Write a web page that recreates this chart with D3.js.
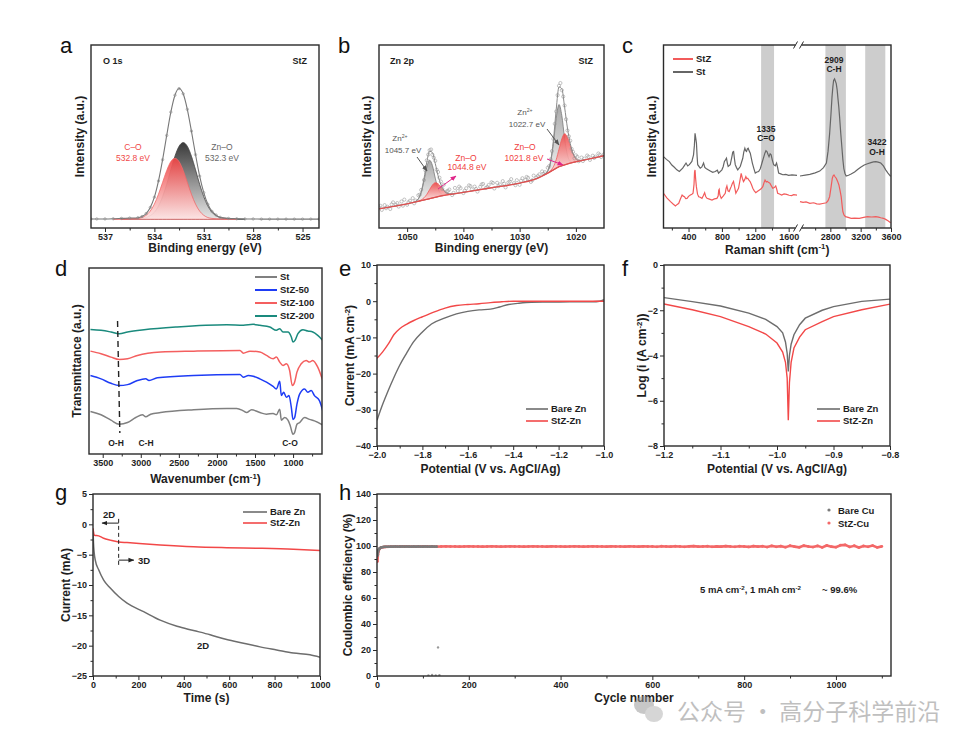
<!DOCTYPE html>
<html><head><meta charset="utf-8">
<script src="https://cdn.jsdelivr.net/npm/d3@7"></script>
<style>body{margin:0;background:#fff}svg{display:block}</style>
</head><body>
<svg id="fig" width="960" height="743"></svg>
<script>
// ================= DATA =================
// ---- a : O 1s XPS ----
const aTicksX=[537,534,531,528,525];
const aMinorX=[535.5,532.5,529.5,526.5];
const aEnvelope=[[537.85,0.2],[537.5,0.2],[537,0.2],[536.5,0.3],[536,0.5],[535.5,0.7],[535,0.9],[534.75,1.6],[534.5,3.3],[534.25,6.8],[534,12.7],[533.75,22.0],[533.5,34.2],[533.25,48.1],[533,61.5],[532.75,71.2],[532.5,75.0],[532.25,72.0],[532,63.1],[531.75,50.6],[531.5,37.1],[531.25,24.8],[531,15.3],[530.75,8.6],[530.5,4.5],[530.25,2.4],[530,1.1],[529.5,0.5],[529,0.3],[528.5,0.2],[528,0.2],[527.5,0.1],[527,0.1],[526.5,0.1],[526,0.1],[525.5,0.1],[525,0.1],[524.5,0.1],[524,0.1]];
const aZnO=[[536,0.2],[535.5,0.3],[535,0.4],[534.75,0.6],[534.5,1.0],[534.25,2.1],[534,4.0],[533.75,7.6],[533.5,13.0],[533.25,20.1],[533,28.4],[532.75,36.2],[532.5,41.9],[532.25,44],[532,41.9],[531.75,36.2],[531.5,28.4],[531.25,20.1],[531,13.0],[530.75,7.6],[530.5,4.0],[530.25,2.1],[530,1.0],[529.75,0.6],[529.5,0.4],[529,0.2],[528.5,0.1]];
const aCO=[[536.5,0.1],[536,0.2],[535.5,0.3],[535.25,0.4],[535,0.5],[534.75,1.0],[534.5,2.3],[534.25,4.7],[534,8.7],[533.75,14.4],[533.5,21.2],[533.25,28.0],[533,33.1],[532.75,35],[532.5,33.1],[532.25,28.0],[532,21.2],[531.75,14.4],[531.5,8.7],[531.25,4.7],[531,2.3],[530.75,1.0],[530.5,0.5],[530.25,0.3],[530,0.2],[529.5,0.1],[529,0.1]];

// ---- b : Zn 2p XPS ----
const bTicksX=[1050,1040,1030,1020];
const bMinorX=[1045,1035,1025];
const bBackground=[[1055,10.5],[1050,13.2],[1046,16],[1044,17.5],[1042,18.5],[1040,19.5],[1035,22],[1030,24.5],[1027,27],[1025,30],[1023,33.5],[1021,35.5],[1018,37.5],[1015,39.5]];
const bZn2p32=[[1026,28.5],[1025.5,29.45],[1025,31.1],[1024.5,35.8],[1024,46.15],[1023.5,60],[1023,67.5],[1022.5,61.4],[1022,48.9],[1021.5,39.9],[1021,36.6],[1020.5,36.0],[1020,36.2]];
const bZnO32=[[1025.5,29.25],[1025,30.1],[1024.5,31.4],[1024,33.45],[1023.5,37.3],[1023,43.1],[1022.5,48.7],[1022,51.5],[1021.5,49.7],[1021,45.1],[1020.5,40.5],[1020,37.9],[1019.5,37.0],[1019,36.9],[1018.5,37.2]];
const bZn2p12=[[1048.5,14.55],[1048,15.9],[1047.5,19.35],[1047,25.8],[1046.5,33.35],[1046,37],[1045.5,34.1],[1045,27.25],[1044.5,21.5],[1044,18.8],[1043.5,18.05]];
const bZnO12=[[1048,14.7],[1047.5,15.35],[1047,16.5],[1046.5,18.35],[1046,21],[1045.5,23.5],[1045,24.75],[1044.5,24.2],[1044,22.5],[1043.5,20.45],[1043,19.2],[1042.5,18.65],[1042,18.6]];
const bEnvelope=[[1055,10.5],[1052,12.1],[1050,13.2],[1049,13.9],[1048.5,14.55],[1048,16.0],[1047.5,19.75],[1047,27.0],[1046.5,36.05],[1046,42],[1045.5,41.2],[1045,35.25],[1044.5,28.6],[1044,23.8],[1043.5,20.75],[1043,19.2],[1042.5,18.65],[1042,18.6],[1040,19.5],[1037,21],[1035,22],[1032,23.5],[1030,24.5],[1028,26.2],[1027,27],[1026,28.5],[1025.5,29.65],[1025,31.2],[1024.5,36.3],[1024,47.85],[1023.5,64.7],[1023,77.1],[1022.5,76.1],[1022,65.9],[1021.5,54.6],[1021,46.2],[1020.5,40.7],[1020,37.9],[1019.5,37.0],[1019,36.9],[1018,37.5],[1016,38.8],[1015,39.5]];
const bRaw=[[1055,11.3],[1054.5,9.9],[1054,12.5],[1053.5,11.6],[1053,10.4],[1052.5,14.0],[1052,12.7],[1051.5,11.7],[1051,14.5],[1050.5,15.5],[1050,12.7],[1049.5,14.9],[1049,16.3],[1048.5,15.0],[1048,17.9],[1047.5,20.8],[1047,26.2],[1046.5,37.0],[1046,42.5],[1045.5,40.0],[1045,36.7],[1044.5,30.6],[1044,25.4],[1043.5,23.6],[1043,19.9],[1042.5,21.0],[1042,18.0],[1041.5,21.9],[1041,20.2],[1040.5,21.8],[1040,19.1],[1039.5,21.7],[1039,23.3],[1038.5,21.1],[1038,22.6],[1037.5,19.9],[1037,22.5],[1036.5,24.1],[1036,21.9],[1035.5,23.5],[1035,25.0],[1034.5,21.6],[1034,24.7],[1033.5,23.8],[1033,25.6],[1032.5,22.2],[1032,24.9],[1031.5,26.7],[1031,24.5],[1030.5,26.1],[1030,23.6],[1029.5,27.2],[1029,26.2],[1028.5,27.4],[1028,25.2],[1027.5,28.6],[1027,27.6],[1026.5,29.3],[1026,30.9],[1025.5,30.5],[1025,32.9],[1024.5,37.5],[1024,48.7],[1023.5,63.7],[1023,77.7],[1022.5,75.3],[1022,66.9],[1021.5,53.3],[1021,47.7],[1020.5,41.6],[1020,39.7],[1019.5,36.5],[1019,38.5],[1018.5,37.9],[1018,39.6],[1017.5,37.2],[1017,39.5],[1016.5,39.0],[1016,40.7],[1015.5,38.8],[1015,40.3],
  [1054.75,12.1],[1053.75,10.8],[1052.75,12.9],[1051.75,13.6],[1050.75,12.2],[1049.75,14.1],[1048.75,13.5],[1047.75,18.2],[1046.75,31.5],[1046.25,40.1],[1045.75,42.9],[1045.25,38.4],[1044.75,31.8],[1044.25,27.5],[1043.75,21.4],[1042.75,20.3],[1041.75,19.2],[1040.75,22.6],[1039.75,20.4],[1038.75,22.9],[1037.75,21.3],[1036.75,23.8],[1035.75,22.4],[1034.75,24.6],[1033.75,22.9],[1032.75,24.2],[1031.75,25.3],[1030.75,23.4],[1029.75,25.8],[1028.75,27.9],[1027.75,26.1],[1026.75,28.4],[1025.75,29.6],[1024.75,33.8],[1024.25,42.0],[1023.75,56.9],[1023.25,72.6],[1022.75,79.2],[1022.25,71.8],[1021.75,59.4],[1021.25,50.1],[1020.75,43.2],[1020.25,38.1],[1019.75,38.9],[1018.75,36.6],[1017.75,38.9],[1016.75,38.3],[1015.75,40.0]];

// ---- c : Raman ----
const cTicksLeft=[400,800,1200,1600], cMinorLeft=[200,600,1000,1400];
const cTicksRight=[2800,3200,3600], cMinorRight=[2600,3000,3400];
const cBands=[[1270,1425],[2735,3005],[3260,3525]];
const cStLeft=[[100,39],[135,37.5],[170,36.3],[200,34.4],[230,33.2],[260,31.8],[290,30.9],[330,32.7],[350,34.1],[370,35.5],[390,33.9],[410,34.6],[440,36.4],[460,40],[470,45],[478,51.7],[487,49],[495,46.3],[503,39],[510,34.6],[540,32.7],[560,33.4],[580,35.5],[595,33.1],[610,32.5],[660,31.2],[690,30.4],[720,30.9],[745,31.6],[760,30],[800,31.8],[815,33.5],[830,36.4],[843,37.2],[855,38.1],[865,35.5],[875,33.6],[900,34.6],[910,36.8],[920,39],[930,41.5],[940,41.8],[950,38],[960,34.6],[975,33],[990,31.8],[1020,33.6],[1050,38.1],[1062,41.5],[1075,43.6],[1085,42.2],[1095,41.8],[1105,43.2],[1115,43.6],[1128,42],[1140,40.9],[1165,35.5],[1185,32.2],[1200,30],[1220,30.6],[1240,30.9],[1260,32.4],[1280,35.5],[1300,38.6],[1315,40.9],[1328,42.2],[1340,41.8],[1352,40.3],[1365,39],[1378,40.5],[1390,40],[1405,37],[1420,34.6],[1440,34],[1455,35.5],[1468,33],[1480,30],[1505,29.6],[1530,29.1],[1565,29.3],[1600,28.8],[1640,29.0],[1700,28.8]];
const cStRight=[[2400,28.4],[2470,28.9],[2530,29.3],[2600,30.1],[2660,31.1],[2710,33],[2748,35.5],[2770,42],[2791,51.7],[2808,62],[2822,71.5],[2833,77],[2843,80.6],[2856,81.5],[2867,80.2],[2878,78.9],[2890,75.5],[2900,71],[2912,66],[2922,60.7],[2937,52],[2952,44.3],[2965,37.5],[2978,32.5],[2993,29.8],[3009,28.4],[3040,28.8],[3074,29.5],[3120,30.6],[3160,32],[3200,33.2],[3247,34.4],[3290,35.1],[3335,35.7],[3370,36.1],[3400,36.3],[3430,36.0],[3465,35.5],[3500,33.9],[3530,31.8],[3560,30],[3595,28.2]];
const cStZLeft=[[100,19.0],[140,16.5],[184,14.4],[215,13.1],[243,12.0],[265,12.9],[283,13.5],[300,15.6],[323,18.0],[337,17.4],[351,17.1],[366,16.1],[382,16.2],[400,17.3],[422,18.0],[440,18.5],[454,19.0],[466,24],[472,30.5],[478,31.7],[485,27],[494,22.6],[508,18.5],[522,17.1],[540,16.8],[561,16.2],[577,17.6],[593,19.3],[606,17.2],[621,16.2],[650,15.8],[681,15.3],[710,15.9],[740,16.2],[755,17.5],[762,20.6],[768,21.1],[775,18.2],[792,16.2],[815,17.4],[840,19.0],[850,21.6],[860,23.0],[873,20.3],[887,19.9],[900,21.4],[911,22.6],[925,24.3],[939,25.4],[952,22.5],[967,19.0],[983,20.4],[999,21.7],[1015,25.6],[1031,29.9],[1045,27.2],[1059,25.4],[1073,26.4],[1087,28.1],[1098,26.9],[1110,27.2],[1124,26.1],[1138,25.4],[1155,23.6],[1170,21.7],[1188,20.3],[1206,19.3],[1228,20.1],[1250,20.8],[1270,21.4],[1290,22.6],[1305,24.8],[1317,26.2],[1332,25.1],[1345,25.4],[1362,24.8],[1377,24.4],[1393,23.0],[1409,21.7],[1428,22.1],[1445,23.0],[1457,21.2],[1468,19.0],[1490,18.6],[1516,18.0],[1545,18.6],[1576,18.4],[1605,17.9],[1636,17.7],[1660,18.2],[1700,18.0]];
const cStZRight=[[2400,14.4],[2440,14.0],[2480,14.3],[2530,13.5],[2580,13.8],[2620,13.2],[2660,13.1],[2700,13.4],[2748,13.8],[2770,14.9],[2791,17.1],[2810,22.5],[2826,27.2],[2837,28.5],[2848,29.0],[2862,28.0],[2878,27.2],[2895,25.6],[2913,23.5],[2928,20.6],[2943,17.1],[2955,12.5],[2965,8.9],[2980,7.2],[3000,6.2],[3035,5.8],[3074,5.3],[3120,5.4],[3182,5.3],[3240,5.8],[3291,6.2],[3345,6.0],[3400,6.2],[3435,5.9],[3465,5.6],[3500,5.3],[3530,4.7],[3560,3.9],[3595,2.9]];

// ---- d : FTIR ----
const dTicksX=[3500,3000,2500,2000,1500,1000];
const dMinorX=[3250,2750,2250,1750,1250,750];
const dSeriesNames=["St","StZ-50","StZ-100","StZ-200"];
const dSt=[[3661,22.9],[3522,21.1],[3392,18.2],[3283,16.0],[3174,16.9],[3066,19.6],[2979,21.1],[2935,20.0],[2870,21.4],[2740,22.3],[2305,23.8],[1870,24.5],[1740,24.5],[1653,23.2],[1610,22.3],[1545,23.8],[1436,22.3],[1349,21.4],[1262,21.8],[1219,21.1],[1175,24.1],[1154,18.2],[1110,19.6],[1067,18.2],[1036,15.1],[1001,10.6],[980,11.5],[949,16.0],[914,16.9],[849,19.6],[784,18.6],[719,17.8],[610,15.6]];
const dStZ50=[[3661,42.2],[3522,40.4],[3392,38.0],[3283,36.8],[3174,37.3],[3044,39.5],[2935,40.4],[2892,39.5],[2783,41.0],[2305,42.2],[1697,42.7],[1653,41.3],[1588,42.2],[1523,41.8],[1436,40.4],[1349,38.6],[1262,36.3],[1219,35.0],[1175,39.1],[1154,31.4],[1123,33.2],[1088,30.5],[1054,31.4],[1023,25.1],[1001,18.6],[980,19.5],[949,26.8],[914,32.2],[849,35.0],[806,33.2],[762,34.1],[719,31.4],[654,28.7],[610,23.2]];
const dStZ100=[[3661,55.3],[3522,53.9],[3392,52.1],[3283,50.8],[3174,51.2],[3044,53.0],[2740,54.8],[2305,55.3],[1697,55.7],[1653,54.2],[1566,55.3],[1436,54.8],[1349,53.0],[1262,51.2],[1219,52.1],[1175,49.4],[1132,47.6],[1088,48.5],[1045,44.9],[1010,36.8],[980,38.6],[949,44.0],[893,48.5],[828,50.3],[784,49.4],[741,50.3],[676,46.7],[610,39.5]];
const dStZ200=[[3661,67.0],[3522,66.5],[3392,65.6],[3283,64.7],[3174,65.6],[2957,66.8],[2523,68.3],[1870,69.5],[1653,69.2],[1523,69.7],[1436,69.2],[1306,68.3],[1219,66.5],[1175,67.4],[1132,65.6],[1067,65.6],[1023,62.9],[1001,60.2],[975,61.1],[936,64.7],[871,66.8],[806,66.1],[741,65.6],[676,63.8],[610,61.1]];

// ---- e : LSV ----
const eTicksX=[-2.0,-1.8,-1.6,-1.4,-1.2,-1.0], eMinorX=[-1.9,-1.7,-1.5,-1.3,-1.1];
const eTicksY=[10,0,-10,-20,-30,-40], eMinorY=[5,-5,-15,-25,-35];
const eBareV=[-2.0,-1.975,-1.95,-1.925,-1.9,-1.87,-1.84,-1.8,-1.76,-1.7,-1.65,-1.6,-1.55,-1.5,-1.46,-1.42,-1.38,-1.32,-1.25,-1.15,-1.05,-1.02,-1.0];
const eBareI=[-32.9,-28.5,-24.6,-21.0,-17.7,-14.4,-11.3,-8.5,-6.3,-4.6,-3.5,-2.8,-2.4,-2.2,-1.6,-0.9,-0.6,-0.3,-0.25,-0.2,-0.15,0.0,0.4];
const eStZV=[-2.0,-1.975,-1.95,-1.925,-1.9,-1.87,-1.84,-1.8,-1.75,-1.7,-1.65,-1.6,-1.55,-1.5,-1.45,-1.4,-1.2,-1.0];
const eStZI=[-15.8,-14.0,-11.8,-9.2,-7.6,-6.4,-5.4,-4.3,-3.0,-1.9,-1.2,-0.9,-0.7,-0.4,-0.15,0,0,0];

// ---- f : Tafel ----
const fTicksX=[-1.2,-1.1,-1.0,-0.9,-0.8], fMinorX=[-1.15,-1.05,-0.95,-0.85];
const fTicksY=[0,-2,-4,-6,-8], fMinorY=[-1,-3,-5,-7];
const fBareV=[-1.2,-1.15,-1.1,-1.05,-1.02,-1.0,-0.99,-0.985,-0.982,-0.98,-0.978,-0.975,-0.97,-0.96,-0.95,-0.92,-0.9,-0.85,-0.8];
const fBareL=[-1.44,-1.62,-1.81,-2.13,-2.4,-2.72,-3.0,-3.4,-3.9,-4.7,-4.0,-3.5,-3.08,-2.64,-2.35,-2.0,-1.84,-1.61,-1.51];
const fStZV=[-1.2,-1.15,-1.1,-1.05,-1.02,-1.0,-0.99,-0.985,-0.982,-0.98,-0.978,-0.975,-0.97,-0.96,-0.95,-0.92,-0.9,-0.85,-0.8];
const fStZL=[-1.72,-1.98,-2.28,-2.72,-3.05,-3.45,-3.85,-4.3,-5.0,-6.86,-5.2,-4.3,-3.67,-3.19,-2.86,-2.5,-2.28,-1.98,-1.73];

// ---- g : chronoamperometry ----
const gTicksX=[0,200,400,600,800,1000], gMinorX=[100,300,500,700,900];
const gTicksY=[5,0,-5,-10,-15,-20,-25], gMinorY=[2.5,-2.5,-7.5,-12.5,-17.5,-22.5];
const gBareT=[0,2,5,10,25,47,76,113,150,223,296,370,443,516,589,663,736,809,883,956,1000];
const gBareI=[-0.8,-3.0,-4.6,-5.9,-7.5,-9.2,-10.5,-11.9,-13.0,-14.4,-15.8,-16.8,-17.5,-18.2,-19.0,-19.6,-20.2,-20.7,-21.2,-21.5,-21.9];
const gStZT=[0,6,25,47,76,113,150,296,443,589,736,883,1000];
const gStZI=[-0.66,-1.8,-1.9,-2.3,-2.6,-2.9,-3.0,-3.4,-3.7,-3.85,-3.95,-4.1,-4.3];

// ---- h : Coulombic efficiency ----
const hTicksX=[0,200,400,600,800,1000], hMinorX=[100,300,500,700,900,1100];
const hTicksY=[0,20,40,60,80,100,120,140], hMinorY=[10,30,50,70,90,110,130];
const hStZCycle=[1,2,3,4,6,8,10,14,18,24,30,40,50,60,70,80,90,100,110,120,130,140,150,160,170,180,190,200,210,220,230,240,250,260,270,280,290,300,310,320,330,340,350,360,370,380,390,400,410,420,430,440,450,460,470,480,490,500,510,520,530,540,550,560,570,580,590,600,610,620,630,640,650,660,670,680,690,700,710,720,730,740,750,760,770,780,790,800,810,820,830,840,850,860,870,880,890,900,910,920,930,940,950,960,970,980,990,1000,1010,1020,1030,1040,1050,1060,1070,1080,1090,1100];
const hStZCE=[88,93.5,95.8,97.0,98.0,98.6,98.9,99.2,99.3,99.4,99.5,99.6,99.6,99.7,99.6,99.5,99.6,99.7,99.6,99.6,99.5,99.6,99.7,99.6,99.6,99.5,99.6,99.7,99.6,99.6,99.5,99.6,99.7,99.6,99.5,99.6,99.7,99.6,99.6,99.5,99.6,99.7,99.6,99.6,99.5,99.7,99.6,99.6,99.5,99.6,99.7,99.6,99.5,99.6,99.7,99.6,99.6,99.5,99.7,99.6,99.6,99.5,99.7,99.6,99.5,99.7,99.6,99.6,99.4,99.8,99.6,99.5,99.8,99.6,99.4,99.7,99.9,99.5,99.6,99.8,99.4,99.7,99.5,99.9,99.6,99.4,99.8,99.6,99.3,99.9,99.5,99.8,99.2,100.1,99.4,99.9,99.1,100.2,99.5,99.0,100.3,99.6,99.2,100.1,98.9,100.4,99.5,99.1,100.6,100.9,99.3,100.2,98.8,100.0,99.4,100.3,98.9,99.7];
const hBareCycle=[1,2,3,4,5,6,8,10,13,16,20,25,30,35,40,45,50,55,60,65,70,75,80,85,90,95,100,105,110,115,120,125,130];
const hBareCE=[92.5,95.0,96.5,97.3,97.9,98.3,98.7,99.0,99.2,99.3,99.4,99.45,99.5,99.5,99.6,99.5,99.5,99.6,99.5,99.6,99.5,99.5,99.6,99.5,99.6,99.5,99.5,99.6,99.5,99.5,99.6,99.5,99.5];
const hBareOutCycle=[112,120,128,133,136];
const hBareOutCE=[0.5,0.8,0.4,22.0,0.6];

// ================= DRAWING =================
const FONT='"Liberation Sans", Arial, Helvetica, sans-serif';
const svg=d3.select("#fig");
const defs=svg.append("defs");
const AXC="#2a2a2a";

function grad(id,top,bot){const lg=defs.append("linearGradient").attr("id",id).attr("x1",0).attr("y1",0).attr("x2",0).attr("y2",1);
  lg.append("stop").attr("offset","0%").attr("stop-color",top);
  lg.append("stop").attr("offset","100%").attr("stop-color",bot);}
grad("gRedA","#ee4444","#fde4e4");grad("gGrayA","#3a3a3a","#e6e6e6");
grad("gRedB","#ef4a4a","#fbe6e6");grad("gGrayB","#a8a8a8","#f1f1f1");
function marker(id,color){defs.append("marker").attr("id",id).attr("viewBox","0 0 10 10").attr("refX",9).attr("refY",5)
  .attr("markerWidth",6).attr("markerHeight",6).attr("orient","auto").append("path").attr("d","M0,1L10,5L0,9z").attr("fill",color);}
marker("arG","#555");marker("arM","#e0268a");marker("arK","#222");

let clipN=0;
function panel(o){
  const g=svg.append("g");
  const x=d3.scaleLinear().domain(o.xd).range([o.L,o.R]);
  const y=d3.scaleLinear().domain(o.yd).range([o.B,o.T]);
  const id="clip"+(clipN++);
  defs.append("clipPath").attr("id",id).append("rect").attr("x",o.L).attr("y",o.T).attr("width",o.R-o.L).attr("height",o.B-o.T);
  const plot=g.append("g").attr("clip-path",`url(#${id})`);
  return {g,plot,x,y,o};
}
function frame(p){const o=p.o;p.g.append("rect").attr("x",o.L).attr("y",o.T).attr("width",o.R-o.L).attr("height",o.B-o.T)
  .attr("fill","none").attr("stroke",AXC).attr("stroke-width",1.4);}
function styleAxis(a){a.select(".domain").remove();
  a.attr("font-family",FONT).attr("font-size",9).attr("font-weight","bold");
  a.selectAll(".tick line").attr("stroke",AXC).attr("stroke-width",1);
  a.selectAll(".tick text").attr("fill","#1e1e1e");}
function xAxis(p,scale,ticks,minor,fmt){
  const a=p.g.append("g").attr("transform",`translate(0,${p.o.B})`)
    .call(d3.axisBottom(scale).tickValues(ticks).tickSize(4).tickPadding(2).tickFormat(fmt||d3.format("d")));
  styleAxis(a);
  if(minor){const m=p.g.append("g").attr("transform",`translate(0,${p.o.B})`)
    .call(d3.axisBottom(scale).tickValues(minor).tickSize(2.5).tickFormat(()=>""));styleAxis(m);}
}
function yAxis(p,ticks,minor,fmt){
  const a=p.g.append("g").attr("transform",`translate(${p.o.L},0)`)
    .call(d3.axisLeft(p.y).tickValues(ticks).tickSize(4).tickPadding(2).tickFormat(fmt||d3.format("d")));
  styleAxis(a);
  if(minor){const m=p.g.append("g").attr("transform",`translate(${p.o.L},0)`)
    .call(d3.axisLeft(p.y).tickValues(minor).tickSize(2.5).tickFormat(()=>""));styleAxis(m);}
}
function rich(t,parts,size){let up=false;
  parts.forEach(([s,k])=>{const ts=t.append("tspan").text(s);
    if(k==="sup"){ts.attr("font-size",size*0.65).attr("dy",-size*0.35);up=true;}
    else if(up){ts.attr("dy",size*0.35);up=false;}});}
function txt(g,x,y,s,op={}){const size=op.size||9;
  const t=g.append("text").attr("x",x).attr("y",y).attr("font-family",FONT).attr("font-size",size)
    .attr("font-weight",op.weight||"bold").attr("fill",op.fill||"#1e1e1e").attr("text-anchor",op.anchor||"start");
  if(Array.isArray(s))rich(t,s,size);else t.text(s);
  if(op.rot)t.attr("transform",`rotate(-90,${x},${y})`);return t;}
function xTitle(p,s,dy){txt(p.g,(p.o.L+p.o.R)/2,p.o.B+(dy||24),s,{size:12,anchor:"middle"});}
function yTitle(p,s,x){txt(p.g,x,(p.o.T+p.o.B)/2,s,{size:12,anchor:"middle",rot:true});}
function letter(x,y,s){txt(svg,x,y,s,{size:22,weight:"normal",fill:"#111"});}
function legendLine(g,x1,x2,y,color,label,w){g.append("line").attr("x1",x1).attr("x2",x2).attr("y1",y).attr("y2",y).attr("stroke",color).attr("stroke-width",w||1.6);
  txt(g,x2+3,y+3.3,label,{size:9.5});}
function arrow(g,x1,y1,x2,y2,color,mk,dash){const l=g.append("line").attr("x1",x1).attr("y1",y1).attr("x2",x2).attr("y2",y2)
  .attr("stroke",color).attr("stroke-width",1).attr("marker-end",`url(#${mk})`);if(dash)l.attr("stroke-dasharray",dash);return l;}

// ---------- Panel a ----------
{
  const p=panel({L:91,R:319,T:45,B:228,xd:[537.85,524],yd:[-5,100]});
  const ar=d3.area().x(d=>p.x(d[0])).y0(p.y(0)).y1(d=>p.y(d[1])).curve(d3.curveMonotoneX);
  p.plot.append("path").datum(aZnO).attr("d",ar).attr("fill","url(#gGrayA)").attr("stroke","#444").attr("stroke-width",0.8);
  p.plot.append("path").datum(aCO).attr("d",ar).attr("fill","url(#gRedA)").attr("fill-opacity",0.92).attr("stroke","#f06a6a").attr("stroke-width",0.8);
  const ln=d3.line().x(d=>p.x(d[0])).y(d=>p.y(d[1])).curve(d3.curveMonotoneX);
  p.plot.append("path").datum(aEnvelope).attr("d",ln).attr("fill","none").attr("stroke","#777").attr("stroke-width",1.1);
  p.plot.selectAll("circle.env").data(aEnvelope).join("circle").attr("cx",d=>p.x(d[0])).attr("cy",d=>p.y(d[1])).attr("r",1.2)
    .attr("fill","none").attr("stroke","#8a8a8a").attr("stroke-width",0.6);
  frame(p);
  xAxis(p,p.x,aTicksX,aMinorX);
  xTitle(p,"Binding energy (eV)");
  yTitle(p,"Intensity (a.u.)",84);
  txt(p.g,103,64,"O 1s",{size:9});
  txt(p.g,307,64,"StZ",{size:9,anchor:"end"});
  txt(p.g,133,150,"C–O",{size:8.5,weight:"normal",fill:"#f04848",anchor:"middle"});
  txt(p.g,133,161,"532.8 eV",{size:8.5,weight:"normal",fill:"#f04848",anchor:"middle"});
  txt(p.g,222,150,"Zn–O",{size:8.5,weight:"normal",fill:"#666",anchor:"middle"});
  txt(p.g,222,161,"532.3 eV",{size:8.5,weight:"normal",fill:"#666",anchor:"middle"});
  letter(60,53,"a");
}

// ---------- Panel b ----------
{
  const p=panel({L:379,R:604,T:45,B:228,xd:[1055,1015],yd:[0,100]});
  function bg(E){for(let i=0;i<bBackground.length-1;i++){const [e0,v0]=bBackground[i],[e1,v1]=bBackground[i+1];
    if(E<=e0&&E>=e1)return v0+(v1-v0)*(E-e0)/(e1-e0);}return bBackground[bBackground.length-1][1];}
  const ar=d3.area().x(d=>p.x(d[0])).y0(d=>p.y(bg(d[0]))).y1(d=>p.y(d[1])).curve(d3.curveMonotoneX);
  [bZn2p32,bZn2p12].forEach(s=>p.plot.append("path").datum(s).attr("d",ar).attr("fill","url(#gGrayB)").attr("stroke","#777").attr("stroke-width",0.8));
  [bZnO32,bZnO12].forEach(s=>p.plot.append("path").datum(s).attr("d",ar).attr("fill","url(#gRedB)").attr("fill-opacity",0.9).attr("stroke","#f05a5a").attr("stroke-width",0.8));
  const ln=d3.line().x(d=>p.x(d[0])).y(d=>p.y(d[1])).curve(d3.curveMonotoneX);
  p.plot.selectAll("circle.raw").data(bRaw).join("circle").attr("cx",d=>p.x(d[0])).attr("cy",d=>p.y(d[1])).attr("r",1.6)
    .attr("fill","none").attr("stroke","#9a9a9a").attr("stroke-width",0.6);
  p.plot.append("path").datum(bEnvelope).attr("d",ln).attr("fill","none").attr("stroke","#8a8a8a").attr("stroke-width",1);
  p.plot.append("path").datum(bBackground).attr("d",ln).attr("fill","none").attr("stroke","#e04f4f").attr("stroke-width",1.3);
  frame(p);
  xAxis(p,p.x,bTicksX,bMinorX);
  xTitle(p,"Binding energy (eV)");
  yTitle(p,"Intensity (a.u.)",371);
  txt(p.g,390,64,"Zn 2p",{size:9});
  txt(p.g,593,64,"StZ",{size:9,anchor:"end"});
  const G="#555",R="#f04040";
  txt(p.g,525,115,[["Zn",null],["2+","sup"]],{size:8,weight:"normal",fill:G,anchor:"middle"});
  txt(p.g,527,127,"1022.7 eV",{size:8,weight:"normal",fill:G,anchor:"middle"});
  txt(p.g,400,141,[["Zn",null],["2+","sup"]],{size:8,weight:"normal",fill:G,anchor:"middle"});
  txt(p.g,403,153,"1045.7 eV",{size:8,weight:"normal",fill:G,anchor:"middle"});
  txt(p.g,466,161,"Zn–O",{size:8.5,weight:"normal",fill:R,anchor:"middle"});
  txt(p.g,467,170,"1044.8 eV",{size:8.5,weight:"normal",fill:R,anchor:"middle"});
  txt(p.g,525,150,"Zn–O",{size:8.5,weight:"normal",fill:R,anchor:"middle"});
  txt(p.g,524,161,"1021.8 eV",{size:8.5,weight:"normal",fill:R,anchor:"middle"});
  arrow(p.g,547,129,559,145,G,"arG");
  arrow(p.g,417,157,427,171,G,"arG");
  arrow(p.g,438,189,456,176,"#e0268a","arM");
  arrow(p.g,547,159,563,165,"#e0268a","arM");
  letter(338,53,"b");
}

// ---------- Panel c ----------
{
  const o={L:663.5,R:891,T:45,B:228};
  const g=svg.append("g");
  const xl=d3.scaleLinear().domain([100,1700]).range([663.5,797]);
  const xr=d3.scaleLinear().domain([2400,3600]).range([800,891]);
  const y=d3.scaleLinear().domain([0,100]).range([o.B,o.T]);
  const p={g,o,y};
  cBands.forEach(([a,b])=>{const sc=a<2000?xl:xr;g.append("rect").attr("x",sc(a)).attr("width",sc(b)-sc(a)).attr("y",o.T).attr("height",o.B-o.T).attr("fill","#cdcdcd");});
  const lnL=d3.line().x(d=>xl(d[0])).y(d=>y(d[1]));
  const lnR=d3.line().x(d=>xr(d[0])).y(d=>y(d[1]));
  g.append("path").datum(cStLeft).attr("d",lnL).attr("fill","none").attr("stroke","#666").attr("stroke-width",1.2);
  g.append("path").datum(cStRight).attr("d",lnR).attr("fill","none").attr("stroke","#666").attr("stroke-width",1.2);
  g.append("path").datum(cStZLeft).attr("d",lnL).attr("fill","none").attr("stroke","#f25b5b").attr("stroke-width",1.2);
  g.append("path").datum(cStZRight).attr("d",lnR).attr("fill","none").attr("stroke","#f25b5b").attr("stroke-width",1.2);
  g.append("rect").attr("x",o.L).attr("y",o.T).attr("width",o.R-o.L).attr("height",o.B-o.T).attr("fill","none").attr("stroke",AXC).attr("stroke-width",1.4);
  xAxis(p,xl,cTicksLeft,cMinorLeft);
  xAxis(p,xr,cTicksRight,cMinorRight);
  [o.T,o.B].forEach(yy=>{g.append("rect").attr("x",795.5).attr("y",yy-2).attr("width",6).attr("height",4).attr("fill","#fff");
    g.append("line").attr("x1",793.5).attr("y1",yy+3.5).attr("x2",797.5).attr("y2",yy-3.5).attr("stroke",AXC).attr("stroke-width",1);
    g.append("line").attr("x1",799.5).attr("y1",yy+3.5).attr("x2",803.5).attr("y2",yy-3.5).attr("stroke",AXC).attr("stroke-width",1);});
  xTitle(p,[["Raman shift (cm",null],["-1","sup"],[")",null]],25.5);
  yTitle(p,"Intensity (a.u.)",656);
  txt(g,766,132,"1335",{size:8.5,anchor:"middle"});
  txt(g,766,141,"C=O",{size:8.5,anchor:"middle"});
  txt(g,834,63,"2909",{size:8.5,anchor:"middle"});
  txt(g,834,72,"C-H",{size:8.5,anchor:"middle"});
  txt(g,877,145,"3422",{size:8.5,anchor:"middle"});
  txt(g,877,155,"O-H",{size:8.5,anchor:"middle"});
  legendLine(g,673,693,59,"#f25b5b","StZ",2);
  legendLine(g,673,693,72,"#666","St",2);
  letter(622,53,"c");
}

// ---------- Panel d ----------
{
  const p=panel({L:89,R:322,T:268,B:454,xd:[3680,620],yd:[0,100]});
  const ln=d3.line().x(d=>p.x(d[0])).y(d=>p.y(d[1])).curve(d3.curveMonotoneX);
  const cols=["#808080","#1e3cf5","#f45f5f","#1a8a7d"];
  [dSt,dStZ50,dStZ100,dStZ200].forEach((s,i)=>p.plot.append("path").datum(s).attr("d",ln).attr("fill","none").attr("stroke",cols[i]).attr("stroke-width",1.5));
  p.g.append("line").attr("x1",p.x(3305)).attr("x2",p.x(3275)).attr("y1",321).attr("y2",433).attr("stroke","#222").attr("stroke-width",1.4).attr("stroke-dasharray","6,4");
  frame(p);
  xAxis(p,p.x,dTicksX,dMinorX);
  xTitle(p,[["Wavenumber (cm",null],["-1","sup"],[")",null]],29);
  yTitle(p,"Transmittance (a.u.)",81);
  txt(p.g,116,446,"O-H",{size:8.5,anchor:"middle"});
  txt(p.g,146,446,"C-H",{size:8.5,anchor:"middle"});
  txt(p.g,290,446,"C-O",{size:8.5,anchor:"middle"});
  dSeriesNames.forEach((n,i)=>legendLine(p.g,255,277,277+i*13,cols[i],n,2));
  letter(55,276,"d");
}

// ---------- Panel e ----------
{
  const p=panel({L:377,R:604,T:265,B:446,xd:[-2,-1],yd:[-40,10]});
  const ln=d3.line().curve(d3.curveMonotoneX);
  p.plot.append("path").attr("d",ln(eBareV.map((v,i)=>[p.x(v),p.y(eBareI[i])]))).attr("fill","none").attr("stroke","#6d6d6d").attr("stroke-width",1.4);
  p.plot.append("path").attr("d",ln(eStZV.map((v,i)=>[p.x(v),p.y(eStZI[i])]))).attr("fill","none").attr("stroke","#f24848").attr("stroke-width",1.4);
  frame(p);
  xAxis(p,p.x,eTicksX,eMinorX,d3.format(".1f"));
  yAxis(p,eTicksY,eMinorY);
  xTitle(p,"Potential (V vs. AgCl/Ag)",27);
  yTitle(p,[["Current (mA cm",null],["-2","sup"],[")",null]],354);
  legendLine(p.g,526,548,409,"#6d6d6d","Bare Zn");
  legendLine(p.g,526,548,421,"#f24848","StZ-Zn");
  letter(339,276,"e");
}

// ---------- Panel f ----------
{
  const p=panel({L:664,R:890,T:265,B:446,xd:[-1.2,-0.8],yd:[-8,0]});
  const ln=d3.line();
  p.plot.append("path").attr("d",ln(fBareV.map((v,i)=>[p.x(v),p.y(fBareL[i])]))).attr("fill","none").attr("stroke","#6d6d6d").attr("stroke-width",1.4);
  p.plot.append("path").attr("d",ln(fStZV.map((v,i)=>[p.x(v),p.y(fStZL[i])]))).attr("fill","none").attr("stroke","#f24848").attr("stroke-width",1.4);
  frame(p);
  xAxis(p,p.x,fTicksX,fMinorX,d3.format(".1f"));
  yAxis(p,fTicksY,fMinorY);
  xTitle(p,"Potential (V vs. AgCl/Ag)",27);
  yTitle(p,[["Log (i (A cm",null],["-2","sup"],["))",null]],646);
  legendLine(p.g,817,840,409,"#6d6d6d","Bare Zn");
  legendLine(p.g,817,840,421,"#f24848","StZ-Zn");
  letter(622,276,"f");
}

// ---------- Panel g ----------
{
  const p=panel({L:93,R:320,T:494,B:676,xd:[0,1000],yd:[-25,5]});
  const ln=d3.line().curve(d3.curveMonotoneX);
  p.plot.append("path").attr("d",ln(gBareT.map((t,i)=>[p.x(t),p.y(gBareI[i])]))).attr("fill","none").attr("stroke","#6d6d6d").attr("stroke-width",1.5);
  p.plot.append("path").attr("d",ln(gStZT.map((t,i)=>[p.x(t),p.y(gStZI[i])]))).attr("fill","none").attr("stroke","#f24848").attr("stroke-width",1.5);
  frame(p);
  xAxis(p,p.x,gTicksX,gMinorX);
  yAxis(p,gTicksY,gMinorY);
  xTitle(p,"Time (s)",26);
  yTitle(p,"Current (mA)",70);
  const xd=p.x(113);
  p.g.append("line").attr("x1",xd).attr("x2",xd).attr("y1",p.y(0.9)).attr("y2",p.y(-6.8)).attr("stroke","#222").attr("stroke-width",1).attr("stroke-dasharray","4,3");
  arrow(p.g,xd,p.y(0.2),p.x(40),p.y(0.2),"#222","arK");
  arrow(p.g,xd,p.y(-5.9),p.x(180),p.y(-5.9),"#222","arK");
  txt(p.g,109,518,"2D",{size:9.5,anchor:"middle"});
  txt(p.g,138,564,"3D",{size:9.5});
  txt(p.g,203,649,"2D",{size:9.5,anchor:"middle"});
  legendLine(p.g,243,267,512,"#6d6d6d","Bare Zn");
  legendLine(p.g,243,267,523,"#f24848","StZ-Zn");
  letter(55,500,"g");
}

// ---------- Panel h ----------
{
  const p=panel({L:377,R:891,T:494,B:676,xd:[0,1120],yd:[0,140]});
  const red="#f36868",gray="#7a7a7a";
  const ln=d3.line().x(d=>p.x(d[0])).y(d=>p.y(d[1]));
  const sz=hStZCycle.map((c,i)=>[c,hStZCE[i]]);
  p.plot.append("path").datum(sz).attr("d",ln).attr("fill","none").attr("stroke",red).attr("stroke-width",2.6);
  p.plot.selectAll("circle.sz").data(sz).join("circle").attr("cx",d=>p.x(d[0])).attr("cy",d=>p.y(d[1])).attr("r",1.4).attr("fill",red);
  const bc=hBareCycle.map((c,i)=>[c,hBareCE[i]]);
  p.plot.append("path").datum(bc).attr("d",ln).attr("fill","none").attr("stroke",gray).attr("stroke-width",2.4);
  p.plot.selectAll("circle.bc").data(bc).join("circle").attr("cx",d=>p.x(d[0])).attr("cy",d=>p.y(d[1])).attr("r",1.3).attr("fill",gray);
  p.plot.selectAll("circle.bo").data(hBareOutCycle.map((c,i)=>[c,hBareOutCE[i]])).join("circle")
    .attr("cx",d=>p.x(d[0])).attr("cy",d=>p.y(d[1])).attr("r",1.2).attr("fill","#999");
  frame(p);
  xAxis(p,p.x,hTicksX,hMinorX);
  yAxis(p,hTicksY,hMinorY);
  xTitle(p,"Cycle number",26);
  yTitle(p,"Coulombic efficiency (%)",352);
  p.g.append("circle").attr("cx",829).attr("cy",510).attr("r",1.6).attr("fill",gray);
  txt(p.g,838,513.5,"Bare Cu",{size:9.5});
  p.g.append("circle").attr("cx",829).attr("cy",523).attr("r",1.6).attr("fill",red);
  txt(p.g,838,526.5,"StZ-Cu",{size:9.5});
  txt(p.g,700,593,[["5 mA cm",null],["-2","sup"],[", 1 mAh cm",null],["-2","sup"]],{size:9.5});
  txt(p.g,822,593,"~ 99.6%",{size:9.5});
  letter(339,500,"h");
}

// ---------- watermark ----------
{
  const w=svg.append("g").attr("opacity",0.55);
  w.append("ellipse").attr("cx",644).attr("cy",705).attr("rx",10).attr("ry",9).attr("fill","#9a9a9a");
  w.append("ellipse").attr("cx",654).attr("cy",714).attr("rx",9).attr("ry",8).attr("fill","#b5b5b5");
  w.append("text").attr("x",677).attr("y",720).attr("font-family",'"Noto Sans CJK SC", sans-serif').attr("font-size",23)
    .attr("fill","#8c8c8c").text("公众号 · 高分子科学前沿");
}
</script>
</body></html>
